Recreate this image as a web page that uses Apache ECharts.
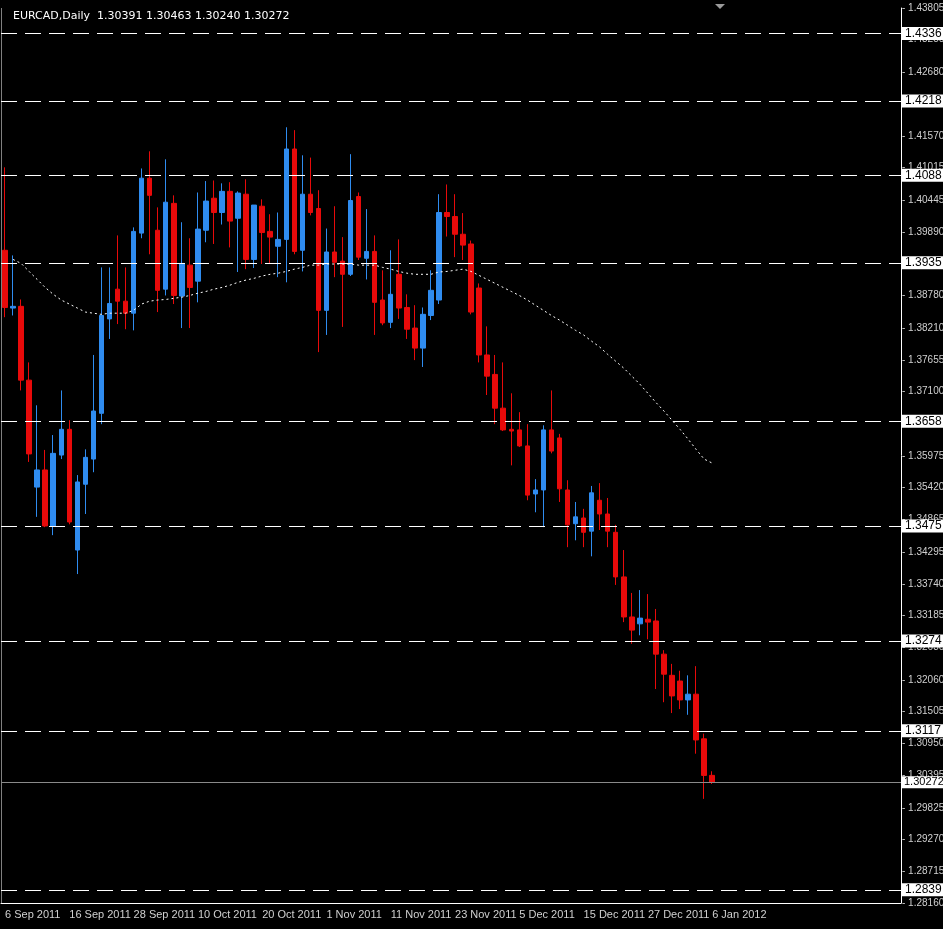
<!DOCTYPE html>
<html>
<head>
<meta charset="utf-8">
<script src="https://cdn.jsdelivr.net/npm/echarts@6/dist/echarts.min.js"></script>
<style>
  html, body { margin: 0; padding: 0; background: #000; }
  #main { width: 943px; height: 929px; }
</style>
</head>
<body>
<div id="main"></div>
<script>
// EURCAD daily, 6 Sep 2011 - 6 Jan 2012
// each candle: [open, close, low, high]
const candles = [
  [1.3957, 1.3857, 1.3840, 1.4102], [1.3856, 1.3859, 1.3843, 1.3948], [1.3859, 1.3730, 1.3712, 1.3871],
  [1.3730, 1.3601, 1.3587, 1.3761], [1.3543, 1.3573, 1.3491, 1.3686], [1.3573, 1.3475, 1.3473, 1.3608],
  [1.3475, 1.3602, 1.3459, 1.3634], [1.3599, 1.3644, 1.3592, 1.3712], [1.3644, 1.3482, 1.3478, 1.3660],
  [1.3433, 1.3552, 1.3391, 1.3564], [1.3548, 1.3595, 1.3496, 1.3609], [1.3592, 1.3676, 1.3569, 1.3774],
  [1.3672, 1.3843, 1.3653, 1.3927], [1.3837, 1.3864, 1.3802, 1.3927], [1.3889, 1.3868, 1.3828, 1.3983],
  [1.3868, 1.3847, 1.3819, 1.3927], [1.3847, 1.3990, 1.3817, 1.3997], [1.3987, 1.4083, 1.3978, 1.4100],
  [1.4083, 1.4053, 1.3950, 1.4130], [1.3992, 1.3887, 1.3849, 1.4032], [1.3889, 1.4041, 1.3878, 1.4116],
  [1.4039, 1.3878, 1.3863, 1.4053], [1.3877, 1.3934, 1.3821, 1.4006], [1.3931, 1.3892, 1.3821, 1.3978],
  [1.3903, 1.3994, 1.3866, 1.4058], [1.3992, 1.4043, 1.3971, 1.4078], [1.4048, 1.4023, 1.3968, 1.4079],
  [1.4023, 1.4060, 1.4002, 1.4074], [1.4060, 1.4008, 1.3962, 1.4076], [1.4013, 1.4057, 1.3919, 1.4060],
  [1.4055, 1.3941, 1.3924, 1.4081], [1.3941, 1.4036, 1.3926, 1.4036], [1.4034, 1.3988, 1.3933, 1.4046],
  [1.3990, 1.3980, 1.3933, 1.4020], [1.3964, 1.3976, 1.3910, 1.4023], [1.3976, 1.4134, 1.3901, 1.4172],
  [1.4134, 1.3955, 1.3950, 1.4167], [1.3957, 1.4055, 1.3920, 1.4123], [1.4055, 1.4023, 1.4018, 1.4119],
  [1.4030, 1.3852, 1.3779, 1.4062], [1.3852, 1.3954, 1.3809, 1.3995], [1.3954, 1.3936, 1.3910, 1.4034],
  [1.3938, 1.3915, 1.3823, 1.3980], [1.3915, 1.4044, 1.3912, 1.4125], [1.4051, 1.3945, 1.3940, 1.4058],
  [1.3943, 1.3955, 1.3906, 1.4029], [1.3955, 1.3866, 1.3809, 1.3983], [1.3870, 1.3830, 1.3826, 1.3922],
  [1.3831, 1.3880, 1.3821, 1.3957], [1.3915, 1.3856, 1.3837, 1.3976], [1.3857, 1.3819, 1.3802, 1.3880],
  [1.3821, 1.3786, 1.3765, 1.3861], [1.3786, 1.3845, 1.3753, 1.3857], [1.3843, 1.3887, 1.3835, 1.3922],
  [1.3870, 1.4023, 1.3863, 1.4055], [1.4023, 1.4016, 1.3981, 1.4072], [1.4016, 1.3985, 1.3945, 1.4055],
  [1.3985, 1.3966, 1.3940, 1.4022], [1.3968, 1.3849, 1.3845, 1.3974], [1.3891, 1.3774, 1.3761, 1.3899],
  [1.3774, 1.3737, 1.3704, 1.3824], [1.3740, 1.3681, 1.3653, 1.3774], [1.3681, 1.3643, 1.3641, 1.3761],
  [1.3644, 1.3641, 1.3581, 1.3707], [1.3643, 1.3615, 1.3613, 1.3674], [1.3615, 1.3529, 1.3520, 1.3653],
  [1.3531, 1.3538, 1.3499, 1.3557], [1.3538, 1.3643, 1.3473, 1.3651], [1.3643, 1.3606, 1.3602, 1.3712],
  [1.3629, 1.3540, 1.3517, 1.3636],
  [1.3538, 1.3477, 1.3438, 1.3555], [1.3479, 1.3491, 1.3450, 1.3517], [1.3489, 1.3464, 1.3438, 1.3505],
  [1.3466, 1.3533, 1.3422, 1.3545], [1.3520, 1.3496, 1.3468, 1.3550], [1.3496, 1.3466, 1.3438, 1.3524],
  [1.3464, 1.3386, 1.3372, 1.3477], [1.3386, 1.3316, 1.3307, 1.3433], [1.3316, 1.3293, 1.3269, 1.3358],
  [1.3304, 1.3314, 1.3284, 1.3363], [1.3312, 1.3307, 1.3277, 1.3356], [1.3309, 1.3251, 1.3190, 1.3330],
  [1.3251, 1.3216, 1.3167, 1.3258], [1.3214, 1.3178, 1.3148, 1.3234], [1.3204, 1.3171, 1.3155, 1.3222],
  [1.3171, 1.3181, 1.3145, 1.3214], [1.3181, 1.3101, 1.3077, 1.3230], [1.3103, 1.3039, 1.2998, 1.3112],
  [1.30391, 1.30272, 1.30240, 1.30463]
];

// moving average (dotted line), starts at the second bar
const maValues = [
  null, 1.3941, 1.3934, 1.3920, 1.3906, 1.3892, 1.3880, 1.3870, 1.3863, 1.3856, 1.3849,
  1.3847, 1.3845, 1.3847, 1.3847, 1.3847, 1.3852, 1.3863, 1.3868, 1.3870, 1.3871,
  1.3873, 1.3875, 1.3878, 1.3882, 1.3885, 1.3889, 1.3892, 1.3896, 1.3901, 1.3905,
  1.3908, 1.3912, 1.3915, 1.3917, 1.3920, 1.3924, 1.3927, 1.3931, 1.3931, 1.3933,
  1.3933, 1.3933, 1.3933, 1.3931, 1.3931, 1.3931, 1.3927, 1.3924, 1.3920, 1.3917,
  1.3915, 1.3915, 1.3915, 1.3919, 1.3920, 1.3922, 1.3924, 1.3920, 1.3913, 1.3906,
  1.3899, 1.3892, 1.3885, 1.3878, 1.3870, 1.3861, 1.3852, 1.3843, 1.3835, 1.3826,
  1.3817, 1.3809, 1.3798, 1.3788, 1.3775, 1.3763, 1.3751, 1.3737, 1.3723, 1.3707,
  1.3691, 1.3676, 1.3660, 1.3644, 1.3627, 1.3609, 1.3592, 1.3585
];

// date labels, one every 8 bars
const dateLabels = ['6 Sep 2011', '16 Sep 2011', '28 Sep 2011', '10 Oct 2011', '20 Oct 2011', '1 Nov 2011',
  '11 Nov 2011', '23 Nov 2011', '5 Dec 2011', '15 Dec 2011', '27 Dec 2011', '6 Jan 2012'];
const dateIndex = [0, 8, 16, 24, 32, 40, 48, 56, 64, 72, 80, 88];

// price scale labels
const priceTicks = [1.28160, 1.28715, 1.29270, 1.29825, 1.30395, 1.30950, 1.31505, 1.32060, 1.32630,
  1.33185, 1.33740, 1.34295, 1.34865, 1.35420, 1.35975, 1.36530, 1.37100, 1.37655, 1.38210, 1.38780,
  1.39335, 1.39890, 1.40445, 1.41015, 1.41570, 1.42125, 1.42680, 1.43250, 1.43805];
// dashed levels (boxed labels)
const levels = [1.4336, 1.4218, 1.4088, 1.3935, 1.3658, 1.3475, 1.3274, 1.3117, 1.2839];
const lastPrice = 1.30272;

const totalSlots = 112;
const categories = [];
for (let i = 0; i < totalSlots; i++) {
  const k = dateIndex.indexOf(i);
  categories.push(k >= 0 ? dateLabels[k] : '');
}

const myChart = echarts.init(document.getElementById('main'))

const boxLabel = {
  show: true, position: 'end', distance: 1,
  color: '#000', backgroundColor: '#fff', padding: [1, 4, 0, 3],
  fontFamily: 'Liberation Sans', fontSize: 12
}

const markData = []
priceTicks.forEach(v => {
  markData.push({
    yAxis: v,
    lineStyle: { color: 'rgba(0,0,0,0)', width: 0 },
    label: { show: true, position: 'end', distance: 1, color: '#d0d0d0', fontFamily: 'Liberation Sans', fontSize: 10,
      formatter: '- ' + v.toFixed(5) }
  })
})
levels.forEach(v => {
  markData.push({
    yAxis: v,
    lineStyle: { color: '#fff', type: [16, 8], width: 1 },
    label: Object.assign({}, boxLabel, { formatter: v.toFixed(4) })
  })
})
markData.push({
  yAxis: lastPrice,
  lineStyle: { color: '#8a8a8a', type: 'solid', width: 1 },
  label: Object.assign({}, boxLabel, { formatter: lastPrice.toFixed(5), fontSize: 11, padding: [1, 1, 0, 2] })
})

myChart.setOption({
  backgroundColor: '#000',
  animation: false,
  title: {
    text: 'EURCAD,Daily  1.30391 1.30463 1.30240 1.30272',
    left: 8, top: 6,
    textStyle: { color: '#fff', fontSize: 11, fontWeight: 'normal', fontFamily: 'DejaVu Sans' }
  },
  grid: { left: 1, right: 42, top: 8, bottom: 26, containLabel: false, outerBoundsMode: 'none' },
  xAxis: {
    type: 'category',
    data: categories,
    boundaryGap: true,
    axisLine: { lineStyle: { color: '#fff', width: 1 } },
    axisTick: {
      alignWithLabel: true,
      interval: (i, v) => v !== '',
      lineStyle: { color: '#fff' }
    },
    axisLabel: {
      interval: (i, v) => v !== '',
      align: 'left',
      color: '#d0d0d0',
      fontFamily: 'Liberation Sans',
      fontSize: 11,
      margin: 6
    },
    splitLine: { show: false }
  },
  yAxis: {
    type: 'value',
    position: 'right',
    scale: true,
    min: 1.28160,
    max: 1.43805,
    axisLine: { show: true, lineStyle: { color: '#fff', width: 1 } },
    axisTick: { show: false },
    axisLabel: { show: false },
    splitLine: { show: false }
  },
  series: [
    {
      type: 'candlestick',
      data: candles,
      barWidth: 5,
      itemStyle: {
        color: '#2f8cf0', borderColor: '#2f8cf0',
        color0: '#e80a0a', borderColor0: '#e80a0a',
        borderWidth: 1
      },
      markLine: { symbol: 'none', silent: true, animation: false, precision: 5, data: markData }
    },
    {
      type: 'line',
      data: maValues,
      symbol: 'none',
      lineStyle: { color: '#fff', type: [2, 3], width: 1 },
      z: 3
    }
  ],
  graphic: [
    { type: 'polygon', shape: { points: [[715, 4], [725, 4], [720, 9]] }, style: { fill: '#9a9a9a' } },
    { type: 'rect', shape: { x: 1, y: 8, width: 1, height: 895 }, style: { fill: '#808080' } }
  ]
})
window.addEventListener('resize', () => {
  myChart.resize()
})
</script>
</body>
</html>
